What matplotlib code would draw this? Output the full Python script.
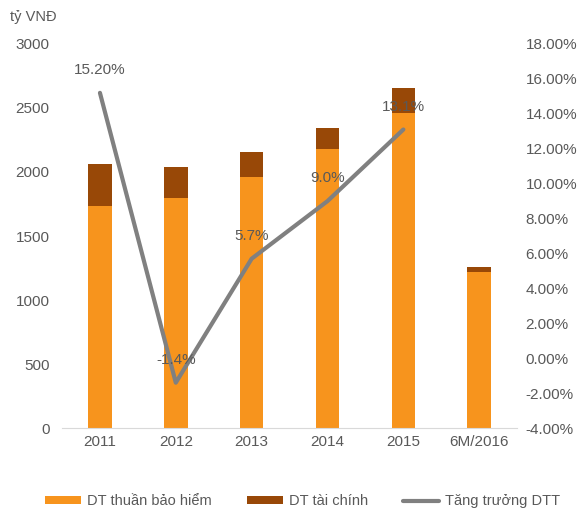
import matplotlib.pyplot as plt
import numpy as np

plt.rcParams['font.family'] = ['Liberation Sans', 'DejaVu Sans']

# data
categories = ['2011', '2012', '2013', '2014', '2015', '6M/2016']
dt_bao_hiem = [1734, 1794, 1958, 2180, 2464, 1221]
dt_tai_chinh = [328, 242, 198, 161, 195, 34]
growth = [15.2, -1.4, 5.7, 9.0, 13.1]
growth_labels = ['15.20%', '-1.4%', '5.7%', '9.0%', '13.1%']

orange = '#F7941D'
brown = '#984807'
gray = '#808080'
txt = '#595959'

fig = plt.figure(figsize=(5.85, 5.17), dpi=100)
ax = fig.add_axes([0.106, 0.172, 0.778, 0.743])
x = np.arange(len(categories))

ax.bar(x, dt_bao_hiem, width=0.31, color=orange, label='DT thuần bảo hiểm')
ax.bar(x, dt_tai_chinh, width=0.31, bottom=dt_bao_hiem, color=brown, label='DT tài chính')
ax.set_ylim(0, 3000)
ax.set_xlim(-0.5, len(categories) - 0.5)
ax.set_yticks(range(0, 3001, 500))
ax.set_xticks(x)
ax.set_xticklabels(categories)

ax2 = ax.twinx()
ax2.plot(x[:len(growth)], growth, color=gray, lw=3.0, solid_capstyle='round',
         label='Tăng trưởng DTT')
ax2.set_ylim(-4, 18)
ax2.set_yticks(np.arange(-4, 18.1, 2))
ax2.set_yticklabels([f'{v:.2f}%' for v in np.arange(-4, 18.1, 2)])

# data labels, centred above each point
for i, (v, lab) in enumerate(zip(growth, growth_labels)):
    ax2.annotate(lab, (i, v), xytext=(0, 16.5), textcoords='offset points',
                 ha='center', va='center', fontsize=11, color=txt)

for a in (ax, ax2):
    for s in a.spines.values():
        s.set_visible(False)
    a.tick_params(length=0, labelsize=11, colors=txt)
ax.spines['bottom'].set_visible(True)
ax.spines['bottom'].set_color('#D9D9D9')
ax.tick_params(axis='y', pad=9)
ax.tick_params(axis='x', pad=5)
ax2.tick_params(axis='y', pad=6)

fig.text(0.017, 0.967, 'tỷ VNĐ', fontsize=10.5, color=txt, va='center')

h1, l1 = ax.get_legend_handles_labels()
h2, l2 = ax2.get_legend_handles_labels()
fig.legend(h1 + h2, l1 + l2, loc='center', bbox_to_anchor=(0.517, 0.03), ncol=3,
           frameon=False, fontsize=10.5, labelcolor=txt, handlelength=2.5,
           handleheight=0.46, handletextpad=0.4, columnspacing=2.4)

fig.savefig('out.png', dpi=100)
